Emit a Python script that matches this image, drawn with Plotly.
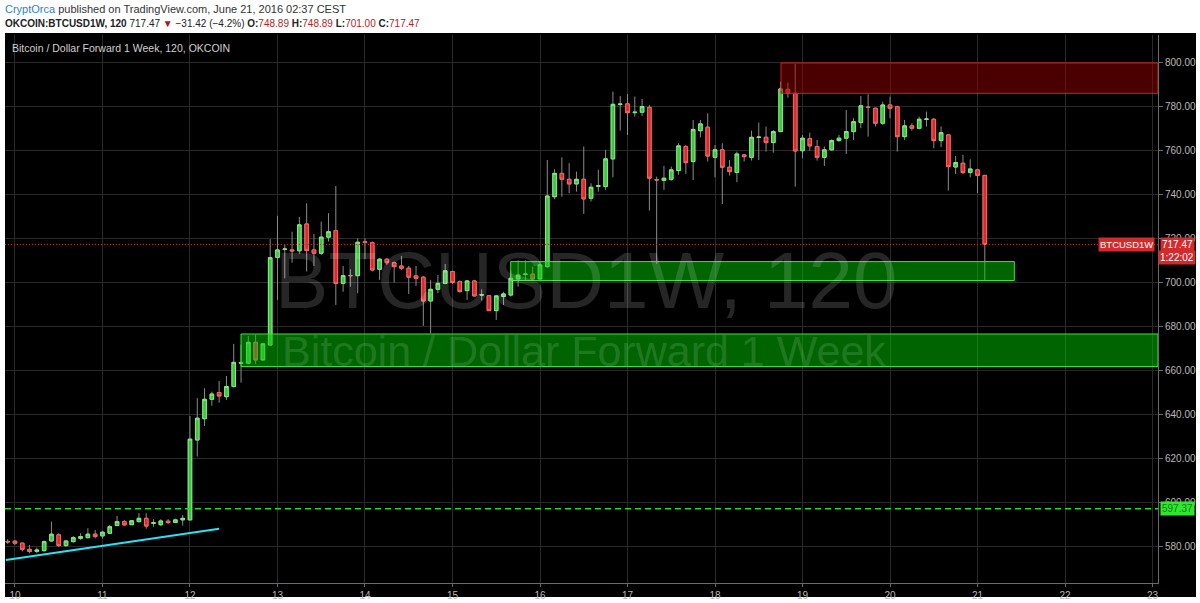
import plotly.graph_objects as go
import pandas as pd

# ---------------- data ----------------
candle_start = "2016-06-09 22:00"   # first 120-minute candle
candle_freq = "2h"

opens = [
    582.5, 582.6, 581.7, 578.9, 578.0, 578.3, 582.7, 585.5, 580.6, 582.4, 583.9, 584.2, 585.8,
    585.0, 586.2, 589.7, 591.5, 590.1, 591.5, 593.0, 590.7, 590.1, 591.7, 591.1, 592.3,
    592.3, 628.6, 638.3, 647.1, 650.2, 648.3, 652.9, 663.5, 663.5, 673.0, 665.0, 671.8,
    711.6, 715.2, 715.0, 714.6, 726.8, 715.0, 713.5, 720.8, 723.8, 699.8, 703.4, 703.3, 718.7, 718.3, 706.2, 710.8,
    709.2, 707.7, 706.7, 703.2, 702.6, 691.8, 697.1, 699.8, 705.2, 700.6, 696.5, 700.9, 694.5, 694.2, 687.4,
    693.8, 694.5, 701.8, 703.8, 704.0, 701.8, 707.4,
    739.2, 749.8, 747.1, 745.0, 747.1, 738.5, 743.9, 743.8, 756.4, 781.1, 781.4, 777.4, 777.6, 779.8, 747.0,
    746.6, 747.1, 751.1, 762.0, 755.2, 769.2, 770.8, 757.1, 760.5, 752.6, 750.2, 758.2, 757.1, 766.1, 766.2, 763.8,
    768.8, 788.0, 786.2, 760.1, 765.6, 762.0, 757.1, 760.5, 764.7, 765.8, 768.8, 772.9, 779.9, 779.4, 772.6,
    780.9, 780.1, 766.5, 771.4, 770.3, 774.3, 774.4, 764.7, 767.3, 752.7, 754.4, 750.2, 751.4, 748.89,
]
highs = [
    583.5, 583.2, 582.1, 580.9, 579.7, 582.9, 591.5, 586.2, 583.2, 585.0, 586.2, 588.5, 587.7,
    587.3, 590.0, 594.1, 592.3, 592.3, 595.3, 595.3, 592.6, 592.6, 592.6, 592.9, 594.5,
    639.5, 647.6, 652.1, 650.6, 655.4, 657.7, 672.3, 672.0, 675.9, 676.4, 672.6, 719.9,
    730.5, 717.3, 723.3, 729.9, 736.2, 722.3, 727.9, 731.7, 744.1, 707.7, 706.2, 720.3, 720.3, 718.8, 711.2, 711.2,
    709.7, 712.3, 707.7, 707.7, 703.2, 701.4, 703.6, 708.6, 705.6, 701.1, 701.4, 701.4, 697.1, 694.5, 694.5,
    696.0, 705.6, 710.2, 710.2, 707.4, 709.7, 755.9,
    751.7, 757.1, 754.4, 750.6, 762.0, 745.3, 751.4, 760.5, 787.0, 785.0, 785.9, 784.7, 783.6, 780.9, 748.3,
    753.2, 752.9, 763.5, 762.7, 774.1, 774.1, 777.1, 762.7, 763.5, 755.9, 759.7, 758.6, 769.2, 772.9, 771.1, 769.5,
    791.5, 791.1, 799.5, 767.3, 768.3, 765.0, 762.0, 765.3, 767.3, 778.6, 774.9, 785.0, 785.8, 779.7, 782.4,
    784.7, 780.5, 774.1, 772.6, 775.6, 777.9, 774.9, 771.1, 767.3, 757.7, 758.2, 756.2, 751.7, 748.89,
]
lows = [
    581.4, 580.9, 577.9, 577.1, 577.1, 577.9, 582.4, 579.9, 580.1, 582.0, 583.2, 583.9, 583.9,
    583.8, 585.9, 589.5, 589.7, 590.0, 591.1, 588.3, 589.2, 589.5, 590.4, 590.8, 589.7,
    592.0, 621.1, 635.0, 644.2, 645.6, 646.8, 652.5, 654.7, 663.0, 663.2, 664.8, 671.5,
    692.3, 702.1, 709.2, 713.2, 705.2, 707.7, 712.7, 718.8, 690.0, 696.0, 698.3, 695.3, 710.8, 705.2, 701.4, 708.2,
    700.2, 705.9, 695.0, 698.6, 680.5, 677.1, 695.3, 699.5, 699.5, 695.6, 692.3, 693.8, 692.0, 687.3, 683.2,
    690.0, 693.8, 698.3, 701.4, 701.4, 701.4, 707.0,
    738.0, 739.2, 740.8, 741.5, 731.4, 737.0, 741.5, 742.3, 748.0, 769.2, 767.3, 775.6, 775.9, 732.9, 708.6,
    742.3, 746.4, 749.1, 749.6, 746.8, 766.2, 755.2, 748.0, 735.9, 748.8, 745.8, 755.2, 755.6, 755.9, 759.7, 759.2,
    768.5, 784.2, 743.8, 756.7, 760.1, 755.6, 753.2, 760.1, 764.2, 758.6, 765.0, 770.3, 766.5, 771.1, 771.8,
    774.9, 759.7, 765.0, 769.2, 769.8, 771.1, 761.2, 761.7, 742.0, 749.5, 749.5, 748.0, 740.8, 701.00,
]
closes = [
    582.3, 581.7, 578.9, 577.9, 578.6, 582.4, 585.8, 580.6, 582.7, 584.2, 584.7, 585.8, 584.7,
    586.7, 589.2, 591.5, 590.0, 591.9, 593.0, 589.5, 591.0, 591.8, 591.1, 592.3, 593.0,
    629.0, 638.5, 647.1, 649.5, 648.6, 652.9, 663.9, 663.8, 673.0, 665.0, 672.3, 711.5,
    715.0, 715.4, 714.6, 726.4, 714.7, 713.5, 720.8, 723.3, 699.8, 703.3, 703.3, 718.5, 718.4, 705.9, 710.8, 709.2,
    707.4, 706.7, 702.6, 702.1, 691.8, 697.1, 699.8, 705.5, 700.2, 696.1, 700.9, 694.1, 694.6, 687.4, 694.1,
    695.0, 702.1, 703.6, 704.0, 701.8, 708.2, 739.5,
    749.8, 747.1, 745.0, 747.1, 738.2, 743.5, 744.2, 756.4, 781.2, 781.3, 777.4, 777.6, 780.2, 747.6, 746.8,
    747.6, 751.4, 762.3, 754.7, 769.8, 772.3, 757.7, 760.5, 752.6, 750.6, 758.6, 757.4, 766.2, 766.3, 763.8, 768.8,
    788.2, 786.2, 760.0, 765.8, 762.3, 757.1, 760.5, 764.7, 765.8, 768.8, 773.3, 780.5, 779.8, 772.6, 780.9,
    779.4, 766.5, 771.4, 770.3, 774.4, 774.5, 764.7, 768.3, 752.9, 754.7, 750.2, 751.8, 748.9, 717.47,
]
assert len(opens) == len(highs) == len(lows) == len(closes)

last_price = 717.47
support_price = 597.37
price_ticks = [580, 600, 620, 640, 660, 680, 700, 720, 740, 760, 780, 800]

# drawn zones (price low, price high, start time, end time)
upper_zone = (701.1, 709.7, "2016-06-15 15:58", "2016-06-21 10:06")
lower_zone = (662.0, 676.8, "2016-06-12 14:00", "2016-06-23 01:30")
resist_zone = (786.2, 800.0, "2016-06-18 18:06", "2016-06-23 01:30")
trend_times = ["2016-06-09 21:30", "2016-06-12 08:00"]
trend_prices = [574.1, 588.3]

x_range = ["2016-06-09 21:16", "2016-06-23 01:30"]
y_range = [563.6, 812.7]

times = pd.date_range(candle_start, periods=len(opens), freq=candle_freq)
body_high = [max(o, c) for o, c in zip(opens, closes)]
body_low = [min(o, c) for o, c in zip(opens, closes)]

# ---------------- layout helpers ----------------
W, H = 1200, 603
ML, MR, MT, MB = 5, 42, 35, 20
PW, PH = W - ML - MR, H - MT - MB


def px(xp):
    return (xp - ML) / PW


def py(yp):
    return 1 - (yp - MT) / PH


WICK = "#8c8c8c"
UP_FILL, UP_LINE = "#40c440", "#7cef7c"
DN_FILL, DN_LINE = "#da2c2c", "#ff6060"
GRID = "#2a2a2a"
AXIS = "#6a6a6a"
TICKC = "#b8b8b8"
FONT = "Liberation Sans"
WM = "rgba(255,255,255,0.15)"

fig = go.Figure()

# wicks (full range, gray)
fig.add_trace(go.Candlestick(
    x=times, open=opens, high=highs, low=lows, close=closes,
    increasing=dict(line=dict(color=WICK, width=1), fillcolor=WICK),
    decreasing=dict(line=dict(color=WICK, width=1), fillcolor=WICK),
    showlegend=False, hoverinfo="skip", name="wick"))
# bodies (coloured)
fig.add_trace(go.Candlestick(
    x=times, open=opens, high=body_high, low=body_low, close=closes,
    increasing=dict(line=dict(color=UP_LINE, width=1), fillcolor=UP_FILL),
    decreasing=dict(line=dict(color=DN_LINE, width=1), fillcolor=DN_FILL),
    showlegend=False, name="OKCOIN:BTCUSD1W"))

# trend line
fig.add_trace(go.Scatter(x=trend_times, y=trend_prices, mode="lines",
                         line=dict(color="#2fe0f0", width=2), showlegend=False, hoverinfo="skip"))

shapes = [
    # black chart background extending under axes
    dict(type="rect", xref="paper", yref="paper", x0=px(5), x1=px(1196), y0=py(597), y1=py(33),
         fillcolor="black", line=dict(width=0), layer="below"),
    # zones
    dict(type="rect", xref="x", yref="y", x0=lower_zone[2], x1=lower_zone[3], y0=lower_zone[0], y1=lower_zone[1],
         fillcolor="rgba(0,200,0,0.5)", line=dict(color="#3ee03e", width=1), layer="above"),
    dict(type="rect", xref="x", yref="y", x0=upper_zone[2], x1=upper_zone[3], y0=upper_zone[0], y1=upper_zone[1],
         fillcolor="rgba(0,200,0,0.5)", line=dict(color="#3ee03e", width=1), layer="above"),
    dict(type="rect", xref="x", yref="y", x0=resist_zone[2], x1=resist_zone[3], y0=resist_zone[0], y1=resist_zone[1],
         fillcolor="rgba(150,0,0,0.5)", line=dict(color="#d02020", width=1), layer="above"),
    # support dashed line
    dict(type="line", xref="paper", yref="y", x0=0, x1=1, y0=support_price, y1=support_price,
         line=dict(color="#22dd22", width=1.5, dash="6px,4px"), layer="above"),
    # last price dotted line
    dict(type="line", xref="paper", yref="y", x0=0, x1=1, y0=last_price, y1=last_price,
         line=dict(color="#c42828", width=1, dash="1px,2px"), layer="above"),
]

annotations = [
    # watermark
    dict(text="BTCUSD1W, 120", xref="paper", yref="paper", x=px(586), y=py(280), showarrow=False,
         font=dict(family=FONT, size=80, color=WM), xanchor="center", yanchor="middle"),
    dict(text="Bitcoin / Dollar Forward 1 Week", xref="paper", yref="paper", x=px(584), y=py(351), showarrow=False,
         font=dict(family=FONT, size=43, color=WM), xanchor="center", yanchor="middle"),
    # header
    dict(text="<span style='color:#2f7fcc'>CryptOrca</span> published on TradingView.com, June 21, 2016 02:37 CEST",
         xref="paper", yref="paper", x=px(3), y=py(8.5), showarrow=False, xanchor="left", yanchor="middle",
         font=dict(family=FONT, size=11, color="#333333")),
    dict(text="<b>OKCOIN:BTCUSD1W, 120</b> 717.47 <span style='color:#b01818'>▼</span> −31.42 (−4.2%) "
              "<b>O:</b><span style='color:#b02525'>748.89</span> <b>H:</b><span style='color:#b02525'>748.89</span> "
              "<b>L:</b><span style='color:#b02525'>701.00</span> <b>C:</b><span style='color:#b02525'>717.47</span>",
         xref="paper", yref="paper", x=px(3), y=py(23.5), showarrow=False, xanchor="left", yanchor="middle",
         font=dict(family=FONT, size=10, color="#222222")),
    # chart title
    dict(text="Bitcoin / Dollar Forward 1 Week, 120, OKCOIN", xref="paper", yref="paper", x=px(10), y=py(47.5),
         showarrow=False, xanchor="left", yanchor="middle", font=dict(family=FONT, size=10.5, color="#d0d0d0")),
    # price labels
    dict(text="BTCUSD1W", xref="paper", yref="y", x=px(1155), y=last_price, showarrow=False, xanchor="right",
         yanchor="middle", bgcolor="#d12b2b", borderpad=1, font=dict(family=FONT, size=9.5, color="white")),
    dict(text="717.47", xref="paper", yref="y", x=px(1177), y=last_price, showarrow=False, xanchor="center",
         yanchor="middle", bgcolor="#d12b2b", borderpad=1, font=dict(family=FONT, size=10, color="white")),
    dict(text="1:22:02", xref="paper", yref="y", x=px(1177), y=last_price, yshift=-13, showarrow=False,
         xanchor="center", yanchor="middle", bgcolor="#d12b2b", borderpad=1,
         font=dict(family=FONT, size=10, color="white")),
    dict(text="597.37", xref="paper", yref="y", x=px(1177), y=support_price, showarrow=False, xanchor="center",
         yanchor="middle", bgcolor="#2ee82e", borderpad=1, font=dict(family=FONT, size=10, color="#137a13")),
]

fig.update_layout(
    width=W, height=H, margin=dict(l=ML, r=MR, t=MT, b=MB),
    paper_bgcolor="white", plot_bgcolor="black",
    shapes=shapes, annotations=annotations, showlegend=False,
    xaxis=dict(type="date", range=x_range, rangeslider=dict(visible=False), tick0="2016-06-10",
               dtick=86400000, tickformat="%-d", showgrid=True, gridcolor=GRID, gridwidth=1,
               showline=True, linecolor=AXIS, ticks="outside", ticklen=3, tickcolor=AXIS,
               tickfont=dict(family=FONT, size=10, color=TICKC), zeroline=False, automargin=False),
    yaxis=dict(side="right", range=y_range, tickvals=price_ticks,
               ticktext=[f"{v:.2f}" for v in price_ticks], showgrid=True, gridcolor=GRID, gridwidth=1,
               showline=True, linecolor=AXIS, ticks="outside", ticklen=4, tickcolor=AXIS,
               tickfont=dict(family=FONT, size=10, color=TICKC), zeroline=False, automargin=False),
)

# the page's default 8px body margin would shift the figure; remove it
fig.write_html("out.html", config={"displayModeBar": False},
               post_script="document.body.style.margin='0px';")
